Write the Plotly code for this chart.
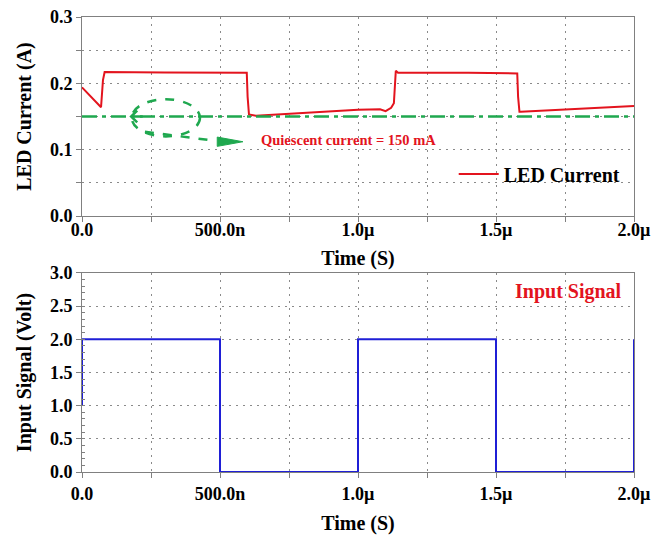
import plotly.graph_objects as go
from plotly.subplots import make_subplots

# ---- data (time in microseconds) ----
time_led = [0.0, 0.069, 0.076, 0.082, 0.30, 0.597, 0.600, 0.605, 0.63, 0.90, 1.00, 1.08, 1.10,
            1.12, 1.13, 1.137, 1.145, 1.40, 1.577, 1.580, 1.585, 1.59, 2.0]
led_current = [0.194, 0.164, 0.205, 0.217, 0.2165, 0.216, 0.18, 0.153, 0.151, 0.158, 0.160, 0.161, 0.158,
               0.163, 0.170, 0.219, 0.216, 0.216, 0.215, 0.18, 0.157, 0.157, 0.166]
quiescent_current = 0.150

time_in = [0.0, 0.0, 0.5, 0.5, 1.0, 1.0, 1.5, 1.5, 2.0, 2.0]
input_signal = [1.0, 2.0, 2.0, 0.0, 0.0, 2.0, 2.0, 0.0, 0.0, 2.0]

x_tickvals = [0, 0.25, 0.5, 0.75, 1.0, 1.25, 1.5, 1.75, 2.0]
x_ticktext = ["0.0", "", "500.0n", "", "1.0\u00b5", "", "1.5\u00b5", "", "2.0\u00b5"]
y1_tickvals = [0, 0.05, 0.1, 0.15, 0.2, 0.25, 0.3]
y1_ticktext = ["0.0", "", "0.1", "", "0.2", "", "0.3"]
y2_tickvals = [0, 0.5, 1.0, 1.5, 2.0, 2.5, 3.0]
y2_ticktext = ["0.0", "0.5", "1.0", "1.5", "2.0", "2.5", "3.0"]

RED = "#e3141e"
BLUE = "#1f1fd6"
GREEN = "#1fa84f"
FONT = "Liberation Serif"

fig = make_subplots(rows=2, cols=1, vertical_spacing=0.1252)

fig.add_trace(go.Scatter(x=time_led, y=led_current, mode="lines", name="LED Current",
                         line=dict(color=RED, width=2)), row=1, col=1)
fig.add_trace(go.Scatter(x=[0, 2.0], y=[quiescent_current, quiescent_current], mode="lines",
                         showlegend=False, line=dict(color=GREEN, width=2.5, dash="15px,5px,4px,5px")),
              row=1, col=1)
fig.add_trace(go.Scatter(x=time_in, y=input_signal, mode="lines", showlegend=False,
                         line=dict(color=BLUE, width=2)), row=2, col=1)

axis_common = dict(showline=True, linecolor="#808080", linewidth=1, mirror=True,
                   showgrid=True, gridcolor="#8a8a8a", griddash="2px,5px", gridwidth=1,
                   ticks="outside", ticklen=5, tickcolor="#808080", zeroline=False,
                   automargin=False,
                   tickfont=dict(family=FONT, size=18, color="black", weight="bold"))
title_font = dict(family=FONT, size=20, color="black", weight="bold")

fig.update_xaxes(range=[0, 2.0], tickmode="array", tickvals=x_tickvals, ticktext=x_ticktext,
                 ticklabelstandoff=-8,
                 title=dict(text="Time (S)", standoff=12, font=title_font),
                 row=1, col=1, **axis_common)
fig.update_xaxes(range=[0, 2.0], tickmode="array", tickvals=x_tickvals, ticktext=x_ticktext,
                 title=dict(text="Time (S)", standoff=15, font=title_font),
                 row=2, col=1, **axis_common)

fig.update_yaxes(range=[0, 0.3], tickmode="array", tickvals=y1_tickvals, ticktext=y1_ticktext,
                 title=dict(text="LED Current (A)", standoff=12, font=title_font),
                 row=1, col=1, **axis_common)
fig.update_yaxes(range=[0, 3.0], tickmode="array", tickvals=y2_tickvals, ticktext=y2_ticktext,
                 minor=dict(dtick=0.1, ticks="inside", ticklen=3, tickcolor="#808080", showgrid=False),
                 title=dict(text="Input Signal (Volt)", standoff=12, font=title_font),
                 row=2, col=1, **axis_common)

# hand-drawn style annotation: dashed ellipse + dashed arrow
fig.add_shape(type="circle", xref="x", yref="y", x0=0.18, x1=0.4275, y0=0.120, y1=0.176,
              line=dict(color=GREEN, width=2.5, dash="dash"))
fig.add_shape(type="path", xref="x", yref="y",
              path="M 0.22,0.150 L 0.19,0.150 M 0.20,0.159 L 0.178,0.150 L 0.20,0.141",
              line=dict(color=GREEN, width=2.5))
fig.add_shape(type="line", xref="x", yref="y", x0=0.228, y0=0.127, x1=0.47, y1=0.114,
              line=dict(color=GREEN, width=2.5, dash="dash"))
fig.add_shape(type="path", xref="x", yref="y",
              path="M 0.49,0.105 L 0.583,0.112 L 0.49,0.119 Z",
              fillcolor=GREEN, line=dict(color=GREEN, width=1))
fig.add_annotation(x=0.64, y=0.114, xref="x", yref="y", xanchor="left", yanchor="middle",
                   text="Quiescent current = 150 mA", showarrow=False,
                   font=dict(family=FONT, size=14.5, color=RED, weight="bold"))
fig.add_annotation(x=1.964, y=2.72, xref="x2", yref="y2", xanchor="right", yanchor="middle",
                   text="Input Signal", showarrow=False,
                   font=dict(family=FONT, size=20, color=RED, weight="bold"))

fig.update_layout(
    width=670, height=535,
    margin=dict(l=82, r=36, t=17, b=63),
    plot_bgcolor="white", paper_bgcolor="white",
    showlegend=True,
    legend=dict(x=0.985, y=0.655, xanchor="right", yanchor="middle", bgcolor="rgba(0,0,0,0)",
                font=dict(family=FONT, size=20, color="black", weight="bold"),
                itemwidth=40, tracegroupgap=0),
)

fig.write_html("out.html")
